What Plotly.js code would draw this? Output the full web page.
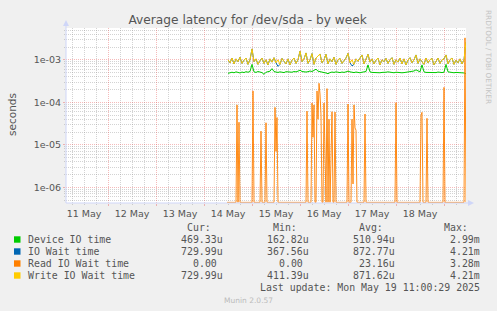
<!DOCTYPE html>
<html>
<head>
<meta charset="utf-8">
<script src="https://cdn.plot.ly/plotly-3.0.1.min.js"></script>
<style>
html,body{margin:0;padding:0;background:#F0F0F0;}
#chart{width:497px;height:311px;}
</style>
</head>
<body>
<div id="chart"></div>
<script>
// ---------------- data (microseconds) ----------------
// hourly samples starting 2025-05-14 12:00
const deviceIoTime = [
  480, 500, 510, 495, 520, 505, 490, 515, 500, 525, 510, 530,
  780, 520, 505, 530, 515, 500, 455, 510, 525, 540, 620, 530,
  515, 505, 520, 510, 500, 525, 515, 505, 510, 530, 520, 540,
  570, 530, 520, 515, 525, 545, 530, 560, 600, 540, 520, 510,
  500, 490, 470, 500, 515, 505, 520, 510, 500, 515, 505, 520,
  540, 520, 510, 500, 515, 505, 495, 510, 520, 530, 760, 520,
  505, 500, 515, 510, 495, 505, 500, 510, 520, 505, 500, 495,
  510, 500, 505, 495, 500, 510, 505, 520, 530, 545, 580, 540,
  520, 760, 520, 505, 500, 495, 510, 505, 500, 515, 505, 500,
  510, 780, 520, 505, 500, 495, 505, 500, 495, 500, 490, 470
];
const writeIoWait = [
  1000, 850, 1100, 800, 1050, 900, 1150, 820, 980, 1100, 780, 1000,
  1800, 900, 1050, 780, 950, 1100, 820, 1000, 760, 1050, 880, 1120,
  850, 1000, 780, 1080, 920, 800, 1050, 760, 980, 1100, 820, 1000,
  1600, 900, 1050, 1450, 820, 1000, 1400, 780, 1100, 1250, 1370, 850,
  1000, 1350, 800, 1050, 900, 1150, 780, 1000, 1080, 820, 950, 1100,
  1420, 850, 1000, 780, 1050, 920, 1100, 1300, 800, 1000, 1350, 880,
  1050, 800, 980, 1100, 760, 1000, 900, 1080, 820, 1000, 1120, 780,
  1000, 880, 1100, 800, 1050, 760, 980, 1120, 850, 1000, 1300, 820,
  1050, 900, 780, 1100, 850, 1000, 1080, 760, 950, 1100, 820, 1000,
  1050, 1300, 800, 1000, 1100, 780, 980, 850, 1050, 800, 1000, 2600
];
const ioWaitTime = [
  1000, 850, 1100, 800, 1050, 900, 1150, 820, 980, 1100, 780, 1000,
  1800, 900, 1050, 780, 950, 1100, 820, 1000, 760, 1050, 880, 1120,
  850, 700, 780, 1080, 920, 800, 1050, 760, 980, 1100, 820, 1000,
  1600, 900, 1050, 1450, 820, 1000, 1400, 780, 1100, 1250, 1370, 850,
  1000, 1350, 800, 1050, 900, 1150, 780, 1000, 1080, 820, 950, 1100,
  1420, 850, 720, 780, 1050, 920, 1100, 1300, 800, 1000, 1350, 880,
  1050, 800, 980, 1100, 760, 1000, 900, 1080, 820, 1000, 1120, 780,
  1000, 880, 1100, 800, 1050, 760, 980, 1120, 850, 1000, 1300, 820,
  1050, 900, 780, 1100, 850, 1000, 1080, 760, 950, 1100, 820, 1000,
  1050, 1300, 800, 1000, 1100, 780, 980, 850, 1050, 800, 1000, 2600
];
// read IO wait: 30-min samples, zero except these
const readSpikeTimes = [
  "2025-05-14 16:30","2025-05-14 17:30","2025-05-15 00:30","2025-05-15 04:30",
  "2025-05-15 07:00","2025-05-15 11:30","2025-05-15 12:00","2025-05-15 12:30",
  "2025-05-16 03:30","2025-05-16 06:00","2025-05-16 06:30","2025-05-16 07:00",
  "2025-05-16 08:30","2025-05-16 09:00","2025-05-16 09:30","2025-05-16 10:00",
  "2025-05-16 10:30","2025-05-16 12:00","2025-05-16 12:30","2025-05-16 13:30",
  "2025-05-16 14:30","2025-05-16 15:30","2025-05-16 16:00","2025-05-16 17:30",
  "2025-05-17 00:00","2025-05-17 02:00","2025-05-17 02:30","2025-05-17 03:00",
  "2025-05-17 03:30","2025-05-17 04:00","2025-05-17 08:30","2025-05-18 00:00",
  "2025-05-18 12:30","2025-05-18 13:00","2025-05-18 15:30","2025-05-19 00:00",
  "2025-05-19 10:30"
];
const readSpikeValues = [
  87, 34, 185, 21,
  33, 76, 7, 44,
  62, 96, 15, 87,
  185, 40, 280, 157,
  50, 96, 10, 210,
  40, 5, 60, 59,
  91, 40, 1.2, 87,
  25, 22, 53, 98,
  50, 58, 42, 225,
  3280
];

const seriesNames = ["Device IO time", "IO Wait time", "Read IO Wait time", "Write IO Wait time"];
const seriesColors = ["#00CC00", "#0066B3", "#FF8000", "#FFCC00"];
const curVals = ["469.33u", "729.99u", "0.00\u00A0", "729.99u"];
const minVals = ["162.82u", "367.56u", "0.00\u00A0", "411.39u"];
const avgVals = ["510.94u", "872.77u", "23.16u", "871.62u"];
const maxVals = ["2.99m", "4.21m", "3.28m", "4.21m"];

const yTickVals = [1e-6, 1e-5, 1e-4, 1e-3];
const yTickText = ["1e-06", "1e-05", "1e-04", "1e-03"];

// ---------------- build ----------------
const H = 3600e3;
function parseT(s){ const [d,t]=s.split(" "); const [Y,M,D]=d.split("-").map(Number); const [h,m]=t.split(":").map(Number); return Date.UTC(Y,M-1,D,h,m); }
const hourStart = Date.UTC(2025,4,14,12,0);
const hourTimes = deviceIoTime.map((_,i)=>hourStart + i*H);

const yMinLog = -6.369, yMaxLog = -2.252;
const floorVal = Math.pow(10, yMinLog + 0.015);
const readStart = Date.UTC(2025,4,14,11,30), readEnd = Date.UTC(2025,4,19,11,0);
const spikeMap = {};
readSpikeTimes.forEach((s,i)=>{ spikeMap[parseT(s)] = readSpikeValues[i]; });
const readTimes = [], readVals = [];
for(let t=readStart; t<=readEnd; t+=H/2){ readTimes.push(t); readVals.push(spikeMap[t] || 0); }

const us = a => a.map(v => v>0 ? v*1e-6 : floorVal);

const traces = [
  {x: hourTimes, y: us(deviceIoTime), color: seriesColors[0], w:1},
  {x: hourTimes, y: us(ioWaitTime), color: seriesColors[1], w:1},
  {x: readTimes, y: us(readVals), color: seriesColors[2], w:0.9},
  {x: hourTimes, y: us(writeIoWait), color: seriesColors[3], w:1}
].map(s => ({type:'scatter', mode:'lines', x:s.x, y:s.y, line:{color:s.color, width:s.w}, hoverinfo:'skip', showlegend:false}));

// pixel helpers (plot area 66..466 x 28..203)
const L=66, R=466, T=28, B=203;
const px = x => (x-L)/(R-L);
const py = y => (B-y)/(B-T);

const minorY = [];
for(let e=-7;e<=-3;e++){ for(let k=2;k<=9;k++){ minorY.push(k*Math.pow(10,e)); } }

const fontUI = 'DejaVu Sans';
const fontMono = 'DejaVu Sans Mono';
const txt = '#555555';
const axisCol = '#CFD6F8';
const gridMinor = 'rgba(150,150,150,0.42)';
const gridMajor = 'rgba(230,90,90,0.42)';

const annotations = [];
const shapes = [];
function ann(x,y,text,opts){ annotations.push(Object.assign({xref:'paper',yref:'paper',x:px(x),y:py(y),text:text,showarrow:false,xanchor:'left',yanchor:'middle',font:{family:fontMono,size:9.9,color:txt}},opts||{})); }

// legend header
const colCur=225.3, colMin=311.3, colAvg=396.7, colMax=482.3;
const headerY = 227.7;
ann(colCur-12, headerY, "Cur:", {xanchor:'right'});
ann(colMin-12, headerY, "Min:", {xanchor:'right'});
ann(colAvg-12, headerY, "Avg:", {xanchor:'right'});
ann(colMax-12, headerY, "Max:", {xanchor:'right'});
seriesNames.forEach((n,i)=>{
  const y = 239.5 + i*12;
  shapes.push({type:'rect', xref:'paper', yref:'paper', x0:px(14), x1:px(20.5), y0:py(y+3.2), y1:py(y-3.2), fillcolor:seriesColors[i], line:{width:0}});
  ann(26, y, n);
  ann(colCur, y, curVals[i], {xanchor:'right'});
  ann(colMin, y, minVals[i], {xanchor:'right'});
  ann(colAvg, y, avgVals[i], {xanchor:'right'});
  ann(colMax, y, maxVals[i], {xanchor:'right'});
});
ann(colMax, 287.7, "Last update: Mon May 19 11:00:29 2025", {xanchor:'right'});
ann(248, 300.5, "Munin 2.0.57", {xanchor:'center', font:{family:fontUI,size:7.5,color:'#BBBBBB'}});
ann(489, 57, "RRDTOOL / TOBI OETIKER", {xanchor:'center', textangle:90, font:{family:fontUI,size:7.3,color:'#C4C4C4'}});
ann(12, 115, "seconds", {xanchor:'center', textangle:-90, font:{family:fontUI,size:10.5,color:txt}});

// axes arrows
shapes.push({type:'line', xref:'paper', yref:'paper', x0:0, x1:0, y0:0, y1:py(25), line:{color:axisCol,width:1}});
shapes.push({type:'path', xref:'paper', yref:'paper', path:`M ${px(63)} ${py(26)} L ${px(69)} ${py(26)} L ${px(66)} ${py(20)} Z`, fillcolor:axisCol, line:{width:0}});
shapes.push({type:'line', xref:'paper', yref:'paper', x0:0, x1:px(469), y0:0, y1:0, line:{color:axisCol,width:1}});
shapes.push({type:'path', xref:'paper', yref:'paper', path:`M ${px(468)} ${py(200)} L ${px(468)} ${py(206)} L ${px(474)} ${py(203)} Z`, fillcolor:axisCol, line:{width:0}});

const layout = {
  width:497, height:311,
  margin:{l:L, r:497-R, t:T, b:311-B, pad:0},
  paper_bgcolor:'#F0F0F0', plot_bgcolor:'#FFFFFF',
  title:{text:'Average latency for /dev/sda - by week', font:{family:fontUI,size:12.2,color:txt}, x:247.7/497, xref:'container', xanchor:'center', y:1-20/311, yref:'container', yanchor:'middle'},
  xaxis:{
    type:'date', range:[Date.UTC(2025,4,11,3,0), Date.UTC(2025,4,19,11,0)],
    tick0:Date.UTC(2025,4,11,0,0), dtick:86400000, ticklabelmode:'period', tickformat:'%d %b',
    showgrid:true, gridcolor:gridMajor, griddash:'1px,1px', gridwidth:1,
    ticks:'outside', ticklen:2, tickcolor:gridMajor,
    minor:{dtick:6*H, tick0:Date.UTC(2025,4,11,0,0), showgrid:true, gridcolor:gridMinor, griddash:'1px,1px', ticks:'outside', ticklen:1, tickcolor:gridMinor},
    showline:false, zeroline:false, fixedrange:true,
    tickfont:{family:fontUI,size:9.5,color:txt}
  },
  yaxis:{
    type:'log', range:[yMinLog, yMaxLog],
    tickmode:'array', tickvals:yTickVals, ticktext:yTickText,
    showgrid:true, gridcolor:gridMajor, griddash:'1px,1px', gridwidth:1,
    ticks:'outside', ticklen:2, tickcolor:gridMajor,
    minor:{tickmode:'array', tickvals:minorY, showgrid:true, gridcolor:gridMinor, griddash:'1px,1px', ticks:'outside', ticklen:1, tickcolor:gridMinor},
    showline:false, zeroline:false, fixedrange:true,
    tickfont:{family:fontUI,size:9.5,color:txt}
  },
  annotations:annotations, shapes:shapes, showlegend:false
};
Plotly.newPlot('chart', traces, layout, {staticPlot:true, displayModeBar:false});
</script>
</body>
</html>
